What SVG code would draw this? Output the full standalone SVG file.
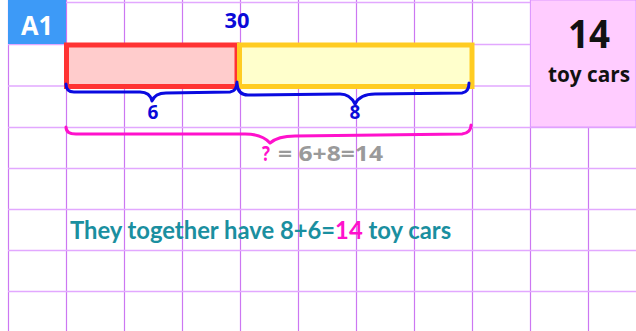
<svg xmlns="http://www.w3.org/2000/svg" width="636" height="331" viewBox="0 0 636 331">
<style>
.v{stroke:#cc77f2;stroke-width:1.2}
.h{stroke:#e2a8ff;stroke-width:1.6}
.b{font-family:"Open Sans","Noto Sans",sans-serif;font-weight:bold}
.brace{fill:none;stroke-linecap:round;stroke-linejoin:round;stroke-width:3}
.s{font-family:Lato,"Open Sans",sans-serif;font-weight:bold;font-size:23.8px;fill:#1a8fa0}
.e{font-size:21px;fill:#9a9a9a}
</style>
<rect width="636" height="331" fill="#ffffff"/>
<g id="grid">
<g class="v">
<line x1="8.5" y1="0" x2="8.5" y2="331"/>
<line x1="66.5" y1="0" x2="66.5" y2="331"/>
<line x1="124.5" y1="0" x2="124.5" y2="331"/>
<line x1="182.5" y1="0" x2="182.5" y2="331"/>
<line x1="240.5" y1="0" x2="240.5" y2="331"/>
<line x1="298.5" y1="0" x2="298.5" y2="331"/>
<line x1="356.5" y1="0" x2="356.5" y2="331"/>
<line x1="414.5" y1="0" x2="414.5" y2="331"/>
<line x1="472.5" y1="0" x2="472.5" y2="331"/>
<line x1="530.5" y1="0" x2="530.5" y2="331"/>
<line x1="588.5" y1="0" x2="588.5" y2="331"/>
</g>
<g class="h">
<line x1="8" y1="2.5" x2="636" y2="2.5"/>
<line x1="8" y1="44.5" x2="636" y2="44.5"/>
<line x1="8" y1="86" x2="636" y2="86"/>
<line x1="8" y1="127.5" x2="636" y2="127.5"/>
<line x1="8" y1="168.5" x2="636" y2="168.5"/>
<line x1="8" y1="209.5" x2="636" y2="209.5"/>
<line x1="8" y1="250.5" x2="636" y2="250.5"/>
<line x1="8" y1="291.5" x2="636" y2="291.5"/>
</g>
</g>
<g id="label-a1">
<rect x="8" y="0" width="58" height="44" fill="#3d9af7"/>
<text x="37" y="35" text-anchor="middle" class="b" font-size="27" fill="#ffffff" textLength="32" lengthAdjust="spacingAndGlyphs">A1</text>
</g>
<g id="answer-panel">
<rect x="530.5" y="0" width="105.5" height="127" fill="#ffccff" stroke="#dd99ff" stroke-width="1"/>
<text x="589" y="48" text-anchor="middle" class="b" font-size="40" fill="#111111" textLength="42" lengthAdjust="spacingAndGlyphs">14</text>
<text x="589" y="82" text-anchor="middle" class="b" font-size="21" fill="#111111" textLength="82" lengthAdjust="spacingAndGlyphs">toy cars</text>
</g>
<g id="total-label">
<text x="237" y="28" text-anchor="middle" class="b" font-size="21" fill="#0a0ad8" textLength="25" lengthAdjust="spacingAndGlyphs">30</text>
</g>
<g id="bar-6">
<rect x="66.5" y="45" width="170.5" height="41.5" fill="#ffcccc" stroke="#ff3333" stroke-width="5"/>
</g>
<g id="bar-8">
<rect x="239.5" y="45" width="232.5" height="41.5" fill="#ffffcc" stroke="#ffcc22" stroke-width="5"/>
</g>
<g id="connectors">
<path class="brace" stroke="#0a0ae0" d="M66,84 Q66,92 74,92 L140,92 Q150,92 152,101 Q155,93 166,93 L230,92 Q237,91 237,82"/>
<path class="brace" stroke="#0a0ae0" d="M237,84 Q238,95 248,95 L340,94 Q350,94 355,104 Q360,94 375,94 L462,93 Q469,92 469,83"/>
<path class="brace" stroke="#ff11cc" d="M66,127 Q66,134 76,134 L245,134 Q262,134 270,143 Q278,136 295,136 L462,134 Q471,133 471,125"/>
</g>
<g id="part-labels">
<text x="153" y="119" text-anchor="middle" class="b" font-size="19" fill="#0a0ad8">6</text>
<text x="355" y="119" text-anchor="middle" class="b" font-size="19" fill="#0a0ad8">8</text>
</g>
<g id="equation">
<text x="262" y="161" class="b e" style="fill:#ff11cc" textLength="8" lengthAdjust="spacingAndGlyphs">?</text>
<text x="278" y="161" class="b e" textLength="105" lengthAdjust="spacingAndGlyphs">= 6+8=14</text>
</g>
<g id="sentence">
<text x="70" y="239" class="s">They together have 8+6=<tspan fill="#ff11cc">14</tspan> toy cars</text>
</g>
</svg>
